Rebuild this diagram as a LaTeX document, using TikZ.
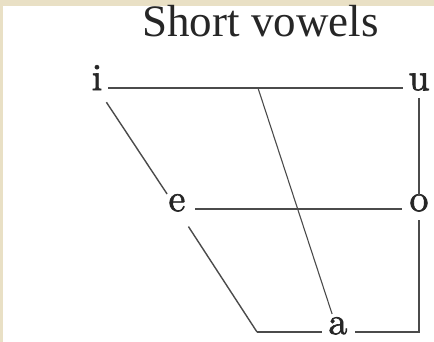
\documentclass[tikz,border=0pt]{standalone}
\usepackage{fontspec}
\newfontfamily\titlefont{Liberation Serif}
\newfontfamily\vowelfont{lmroman10-regular.otf}[FakeBold=1.6]
\definecolor{beige}{RGB}{233,224,197}
\definecolor{linegray}{RGB}{75,75,75}
\definecolor{txt}{RGB}{38,38,38}
\begin{document}
\begin{tikzpicture}[x=1pt,y=-1pt,
  vowel/.style={inner sep=0pt, anchor=mid, text=txt, font=\vowelfont\fontsize{38}{40}\selectfont},
  conn/.style={draw=linegray, line width=1.4pt}]
\useasboundingbox (0,0) rectangle (434,342);
\fill[beige] (0,0) rectangle (434,342);
\fill[white] (3,6) rectangle (434,342);
\node[anchor=base, text=txt, inner sep=0pt, font=\titlefont\fontsize{45}{48}\selectfont] (title) at (260.5,37) {Short vowels};
\node[vowel] (i) at (97,88) {i};
\node[vowel] (u) at (419,88) {u};
\node[vowel] (e) at (177,209) {e};
\node[vowel] (o) at (419,209) {o};
\node[vowel] (a) at (338,332) {a};
\coordinate (bl) at (257,332);
\coordinate (br) at (419,332);
\path (i.mid) -- (u.mid) coordinate[pos=0.5] (t);
% horizontals
\draw[conn, shorten <=11pt, shorten >=16pt] (i.mid) -- (u.mid);
\draw[conn, shorten <=18pt, shorten >=17pt] (e.mid) -- (o.mid);
% left slanted edge
\draw[conn, shorten <=17pt, shorten >=18pt] (i.mid) -- (e.mid);
\draw[conn, shorten <=21pt] (e.mid) -- (bl);
\draw[conn, shorten >=16pt] (bl) -- (a.mid);
\draw[conn, shorten <=17pt] (a.mid) -- (br) -- ([yshift=-11pt]o.mid);
% right vertical
\draw[conn, shorten <=10pt, shorten >=13pt] (u.mid) -- (o.mid);
% central slant
\draw[conn, line width=1.1pt, shorten >=19pt] (t) -- (a.mid);
\end{tikzpicture}
\end{document}
